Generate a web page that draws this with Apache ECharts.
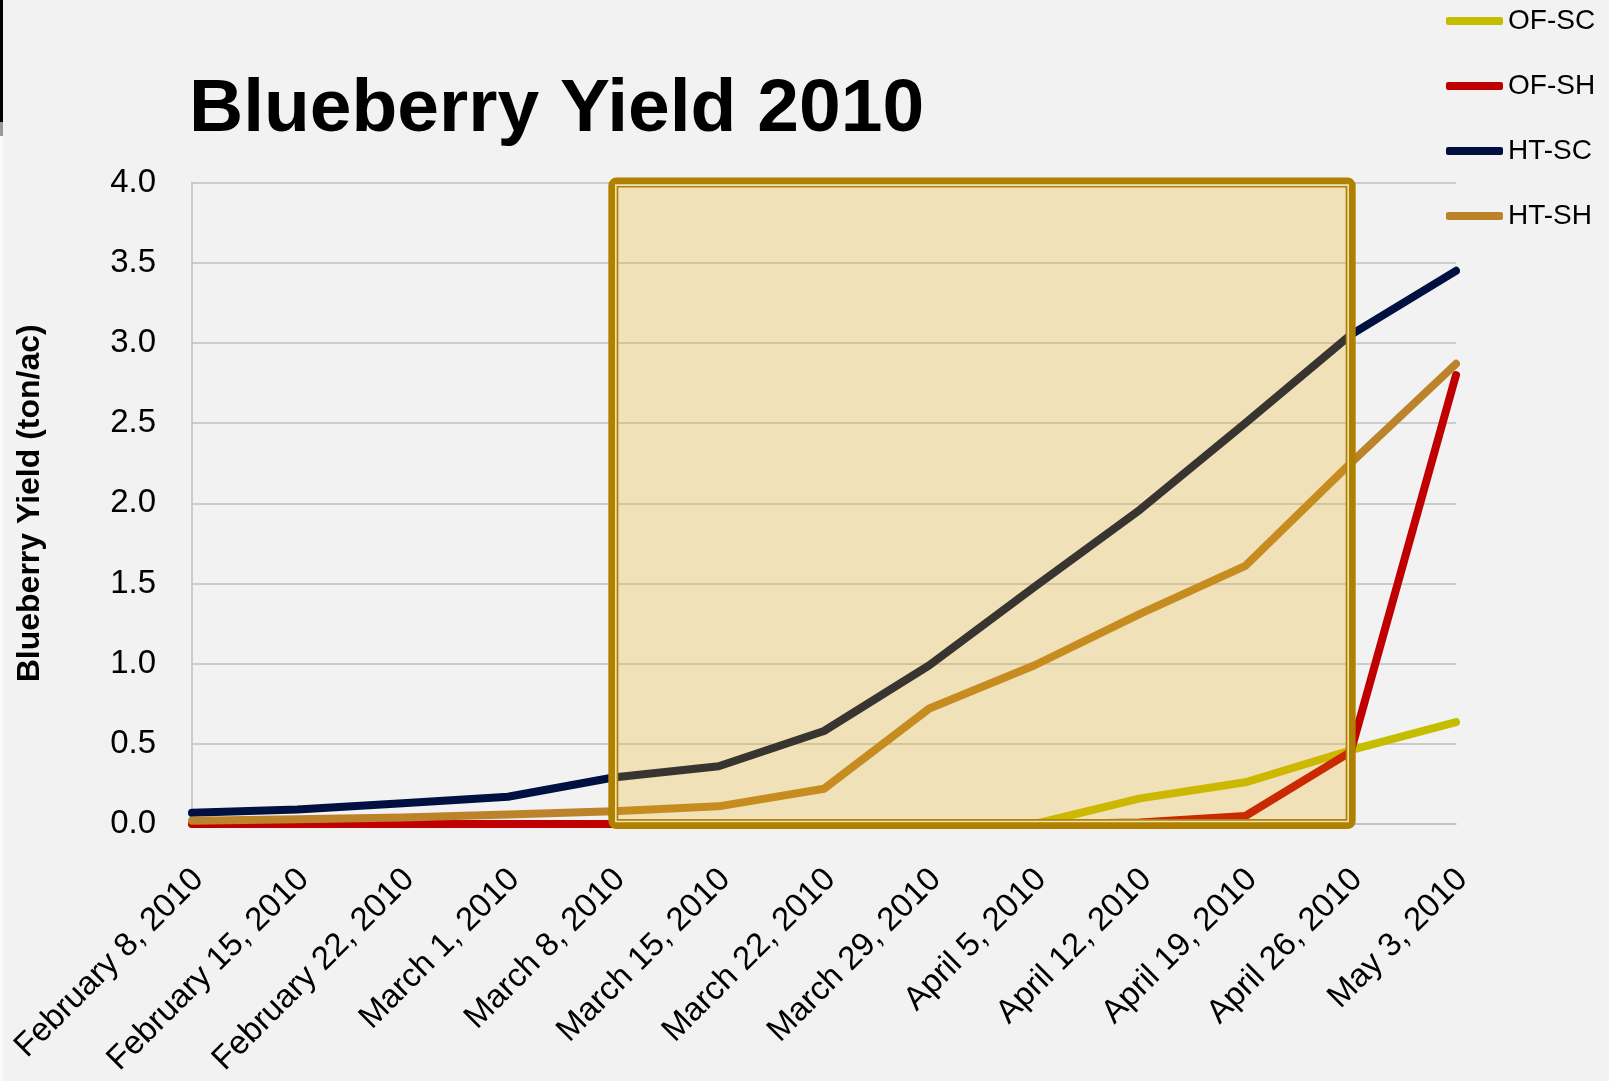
<!DOCTYPE html>
<html>
<head>
<meta charset="utf-8">
<script src="https://cdn.jsdelivr.net/npm/echarts@6/dist/echarts.min.js"></script>
<style>
  html, body { margin: 0; padding: 0; background: #F2F2F2; }
  #chart { width: 1609px; height: 1081px; }
</style>
</head>
<body>
<div id="chart"></div>
<script>
// ---- data ----
const categories = ['February 8, 2010', 'February 15, 2010', 'February 22, 2010', 'March 1, 2010',
  'March 8, 2010', 'March 15, 2010', 'March 22, 2010', 'March 29, 2010', 'April 5, 2010',
  'April 12, 2010', 'April 19, 2010', 'April 26, 2010', 'May 3, 2010'];
const seriesNames = ['OF-SC', 'OF-SH', 'HT-SC', 'HT-SH'];
const ofSC = [0, 0, 0, 0, 0, 0, 0, 0, 0, 0.16, 0.26, 0.46, 0.635];
const ofSH = [0, 0, 0, 0, 0, 0, 0, 0, 0, 0.01, 0.05, 0.45, 2.80];
const htSC = [0.07, 0.09, 0.13, 0.17, 0.29, 0.36, 0.58, 0.99, 1.48, 1.96, 2.50, 3.05, 3.45];
const htSH = [0.02, 0.03, 0.04, 0.06, 0.08, 0.11, 0.22, 0.72, 0.99, 1.31, 1.61, 2.25, 2.87];
const yTicks = [0, 0.5, 1.0, 1.5, 2.0, 2.5, 3.0, 3.5, 4.0];
const highlightFrom = 'March 8, 2010';
const highlightTo = 'April 26, 2010';
const highlightYRange = [0, 4.0];

// ---- styles ----
const colors = ['#C4BD00', '#C00000', '#001040', '#BD832A'];
const FONT = 'Liberation Sans';

const chart = echarts.init(document.getElementById('chart'), null, { renderer: 'canvas' });

const lineSeries = [ofSC, ofSH, htSC, htSH].map((d, i) => ({
  name: seriesNames[i],
  type: 'line',
  data: d,
  symbol: 'none',
  clip: false,
  z: 2,
  itemStyle: { color: colors[i] },
  lineStyle: { color: colors[i], width: 8, cap: 'round', join: 'round' },
  emphasis: { disabled: true }
}));

const boxSeries = {
  type: 'custom',
  name: 'highlight',
  z: 10,
  clip: false,
  silent: true,
  data: [[categories.indexOf(highlightFrom), categories.indexOf(highlightTo), highlightYRange[0], highlightYRange[1]]],
  encode: { x: [0, 1], y: [2, 3] },
  renderItem: function (params, api) {
    const tl = api.coord([api.value(0), api.value(3)]);
    const br = api.coord([api.value(1), api.value(2)]);
    const x = tl[0], y = tl[1], w = br[0] - tl[0], h = br[1] - tl[1];
    return {
      type: 'group',
      children: [
        { type: 'rect', shape: { x: x, y: y, width: w, height: h },
          style: { fill: 'rgba(233,171,4,0.24)', stroke: null } },
        { type: 'rect', shape: { x: x, y: y, width: w, height: h, r: 3 },
          style: { fill: null, stroke: '#B08000', lineWidth: 10, lineJoin: 'round' } },
        { type: 'rect', shape: { x: x + 2.5, y: y + 2.5, width: w - 5, height: h - 5 },
          style: { fill: null, stroke: '#F0E2BA', lineWidth: 1.6 } }
      ]
    };
  }
};

const option = {
  backgroundColor: '#F2F2F2',
  animation: false,
  title: {
    text: 'Blueberry Yield 2010',
    left: 189,
    top: 73,
    padding: 0,
    textStyle: { fontFamily: FONT, fontSize: 75, fontWeight: 'bold', color: '#000' }
  },
  legend: {
    data: seriesNames,
    orient: 'vertical',
    left: 1446,
    top: 7,
    padding: 0,
    itemGap: 37,
    itemWidth: 57,
    itemHeight: 8,
    icon: 'roundRect',
    textStyle: { fontFamily: FONT, fontSize: 28, lineHeight: 28, color: '#000' }
  },
  grid: {
    left: 192,
    right: 153,
    top: 182.6,
    bottom: 257,
    outerBoundsMode: 'none'
  },
  xAxis: {
    type: 'category',
    data: categories,
    boundaryGap: false,
    axisLine: { show: true, lineStyle: { color: '#BFBFBF', width: 1.5 } },
    axisTick: { show: false },
    axisLabel: {
      rotate: 45,
      interval: 0,
      margin: 44,
      align: 'right',
      verticalAlign: 'top',
      lineHeight: 18,
      fontFamily: FONT,
      fontSize: 33,
      color: '#000'
    },
    splitLine: { show: false }
  },
  yAxis: {
    type: 'value',
    min: yTicks[0],
    max: yTicks[yTicks.length - 1],
    interval: 0.5,
    name: 'Blueberry Yield (ton/ac)',
    nameLocation: 'middle',
    nameRotate: 90,
    nameGap: 146,
    nameTextStyle: { fontFamily: FONT, fontSize: 32, fontWeight: 'bold', color: '#000' },
    axisLine: { show: true, lineStyle: { color: '#BFBFBF', width: 1.5 } },
    axisTick: { show: false },
    axisLabel: {
      margin: 36,
      fontFamily: FONT,
      fontSize: 33,
      color: '#000',
      formatter: v => v.toFixed(1)
    },
    splitLine: { show: true, lineStyle: { color: '#BFBFBF', width: 1.5 } }
  },
  graphic: [
    { type: 'rect', left: 0, top: 0, shape: { width: 3, height: 122 }, style: { fill: '#000' }, z: 100 },
    { type: 'rect', left: 0, top: 122, shape: { width: 3, height: 14 }, style: { fill: '#9A9A9A' }, z: 100 },
    { type: 'rect', left: 0, top: 136, shape: { width: 3, height: 945 }, style: { fill: '#FAFAFA' }, z: 100 }
  ],
  series: lineSeries.concat([boxSeries])
};

chart.setOption(option);
</script>
</body>
</html>
